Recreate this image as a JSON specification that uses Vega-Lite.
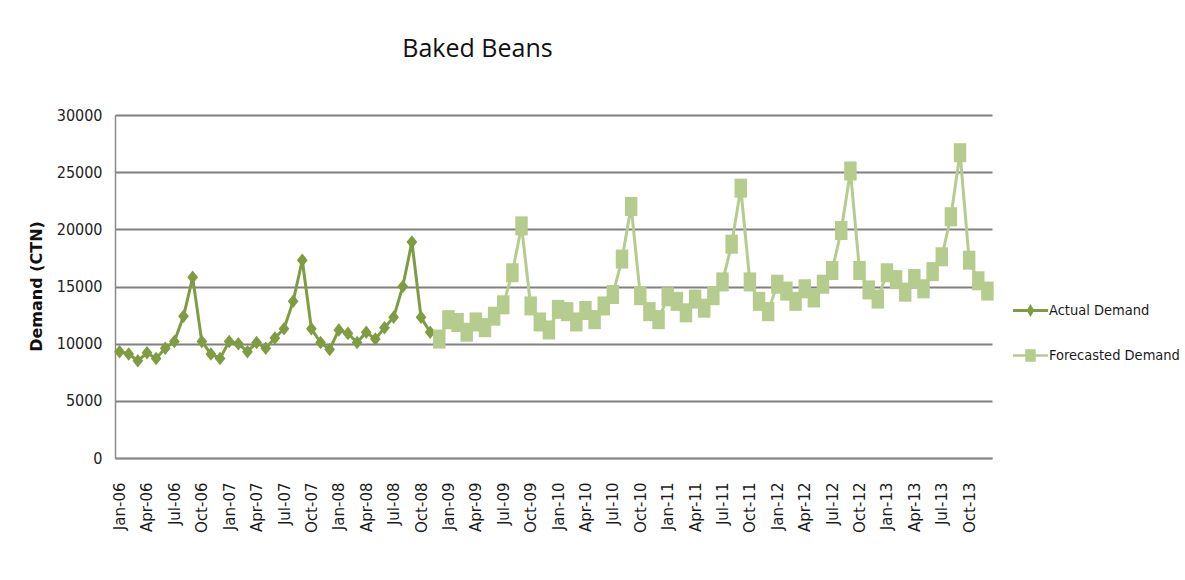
{
  "$schema": "https://vega.github.io/schema/vega-lite/v6.json",
  "width": 877,
  "height": 343,
  "autosize": {"type": "none"},
  "padding": {"left": 115, "top": 115, "right": 193, "bottom": 122},
  "background": "white",
  "config": {"view": {"stroke": null}},
  "title": {
    "text": "Baked Beans",
    "anchor": "middle",
    "frame": "group",
    "dx": -76,
    "offset": 25,
    "baseline": "alphabetic",
    "font": "Open Sans",
    "fontSize": 25,
    "fontWeight": "normal",
    "color": "#111"
  },
  "data": {
    "values": [
      {"month": "Jan-06", "series": "Actual Demand", "demand": 9300},
      {"month": "Feb-06", "series": "Actual Demand", "demand": 9100},
      {"month": "Mar-06", "series": "Actual Demand", "demand": 8500},
      {"month": "Apr-06", "series": "Actual Demand", "demand": 9200},
      {"month": "May-06", "series": "Actual Demand", "demand": 8700},
      {"month": "Jun-06", "series": "Actual Demand", "demand": 9600},
      {"month": "Jul-06", "series": "Actual Demand", "demand": 10200},
      {"month": "Aug-06", "series": "Actual Demand", "demand": 12400},
      {"month": "Sep-06", "series": "Actual Demand", "demand": 15800},
      {"month": "Oct-06", "series": "Actual Demand", "demand": 10200},
      {"month": "Nov-06", "series": "Actual Demand", "demand": 9100},
      {"month": "Dec-06", "series": "Actual Demand", "demand": 8700},
      {"month": "Jan-07", "series": "Actual Demand", "demand": 10200},
      {"month": "Feb-07", "series": "Actual Demand", "demand": 10000},
      {"month": "Mar-07", "series": "Actual Demand", "demand": 9300},
      {"month": "Apr-07", "series": "Actual Demand", "demand": 10100},
      {"month": "May-07", "series": "Actual Demand", "demand": 9600},
      {"month": "Jun-07", "series": "Actual Demand", "demand": 10500},
      {"month": "Jul-07", "series": "Actual Demand", "demand": 11300},
      {"month": "Aug-07", "series": "Actual Demand", "demand": 13700},
      {"month": "Sep-07", "series": "Actual Demand", "demand": 17300},
      {"month": "Oct-07", "series": "Actual Demand", "demand": 11300},
      {"month": "Nov-07", "series": "Actual Demand", "demand": 10100},
      {"month": "Dec-07", "series": "Actual Demand", "demand": 9500},
      {"month": "Jan-08", "series": "Actual Demand", "demand": 11200},
      {"month": "Feb-08", "series": "Actual Demand", "demand": 10900},
      {"month": "Mar-08", "series": "Actual Demand", "demand": 10100},
      {"month": "Apr-08", "series": "Actual Demand", "demand": 11000},
      {"month": "May-08", "series": "Actual Demand", "demand": 10400},
      {"month": "Jun-08", "series": "Actual Demand", "demand": 11400},
      {"month": "Jul-08", "series": "Actual Demand", "demand": 12300},
      {"month": "Aug-08", "series": "Actual Demand", "demand": 15000},
      {"month": "Sep-08", "series": "Actual Demand", "demand": 18900},
      {"month": "Oct-08", "series": "Actual Demand", "demand": 12300},
      {"month": "Nov-08", "series": "Actual Demand", "demand": 11000},
      {"month": "Dec-08", "series": "Forecasted Demand", "demand": 10400},
      {"month": "Jan-09", "series": "Forecasted Demand", "demand": 12100},
      {"month": "Feb-09", "series": "Forecasted Demand", "demand": 11850},
      {"month": "Mar-09", "series": "Forecasted Demand", "demand": 11000},
      {"month": "Apr-09", "series": "Forecasted Demand", "demand": 11900},
      {"month": "May-09", "series": "Forecasted Demand", "demand": 11400},
      {"month": "Jun-09", "series": "Forecasted Demand", "demand": 12400},
      {"month": "Jul-09", "series": "Forecasted Demand", "demand": 13400},
      {"month": "Aug-09", "series": "Forecasted Demand", "demand": 16200},
      {"month": "Sep-09", "series": "Forecasted Demand", "demand": 20300},
      {"month": "Oct-09", "series": "Forecasted Demand", "demand": 13300},
      {"month": "Nov-09", "series": "Forecasted Demand", "demand": 11900},
      {"month": "Dec-09", "series": "Forecasted Demand", "demand": 11200},
      {"month": "Jan-10", "series": "Forecasted Demand", "demand": 13000},
      {"month": "Feb-10", "series": "Forecasted Demand", "demand": 12800},
      {"month": "Mar-10", "series": "Forecasted Demand", "demand": 11900},
      {"month": "Apr-10", "series": "Forecasted Demand", "demand": 12900},
      {"month": "May-10", "series": "Forecasted Demand", "demand": 12100},
      {"month": "Jun-10", "series": "Forecasted Demand", "demand": 13300},
      {"month": "Jul-10", "series": "Forecasted Demand", "demand": 14300},
      {"month": "Aug-10", "series": "Forecasted Demand", "demand": 17400},
      {"month": "Sep-10", "series": "Forecasted Demand", "demand": 22000},
      {"month": "Oct-10", "series": "Forecasted Demand", "demand": 14200},
      {"month": "Nov-10", "series": "Forecasted Demand", "demand": 12800},
      {"month": "Dec-10", "series": "Forecasted Demand", "demand": 12100},
      {"month": "Jan-11", "series": "Forecasted Demand", "demand": 14100},
      {"month": "Feb-11", "series": "Forecasted Demand", "demand": 13700},
      {"month": "Mar-11", "series": "Forecasted Demand", "demand": 12700},
      {"month": "Apr-11", "series": "Forecasted Demand", "demand": 13900},
      {"month": "May-11", "series": "Forecasted Demand", "demand": 13100},
      {"month": "Jun-11", "series": "Forecasted Demand", "demand": 14200},
      {"month": "Jul-11", "series": "Forecasted Demand", "demand": 15400},
      {"month": "Aug-11", "series": "Forecasted Demand", "demand": 18700},
      {"month": "Sep-11", "series": "Forecasted Demand", "demand": 23600},
      {"month": "Oct-11", "series": "Forecasted Demand", "demand": 15400},
      {"month": "Nov-11", "series": "Forecasted Demand", "demand": 13700},
      {"month": "Dec-11", "series": "Forecasted Demand", "demand": 12800},
      {"month": "Jan-12", "series": "Forecasted Demand", "demand": 15200},
      {"month": "Feb-12", "series": "Forecasted Demand", "demand": 14600},
      {"month": "Mar-12", "series": "Forecasted Demand", "demand": 13700},
      {"month": "Apr-12", "series": "Forecasted Demand", "demand": 14800},
      {"month": "May-12", "series": "Forecasted Demand", "demand": 14000},
      {"month": "Jun-12", "series": "Forecasted Demand", "demand": 15200},
      {"month": "Jul-12", "series": "Forecasted Demand", "demand": 16400},
      {"month": "Aug-12", "series": "Forecasted Demand", "demand": 19900},
      {"month": "Sep-12", "series": "Forecasted Demand", "demand": 25100},
      {"month": "Oct-12", "series": "Forecasted Demand", "demand": 16400},
      {"month": "Nov-12", "series": "Forecasted Demand", "demand": 14700},
      {"month": "Dec-12", "series": "Forecasted Demand", "demand": 13900},
      {"month": "Jan-13", "series": "Forecasted Demand", "demand": 16200},
      {"month": "Feb-13", "series": "Forecasted Demand", "demand": 15600},
      {"month": "Mar-13", "series": "Forecasted Demand", "demand": 14500},
      {"month": "Apr-13", "series": "Forecasted Demand", "demand": 15700},
      {"month": "May-13", "series": "Forecasted Demand", "demand": 14800},
      {"month": "Jun-13", "series": "Forecasted Demand", "demand": 16300},
      {"month": "Jul-13", "series": "Forecasted Demand", "demand": 17600},
      {"month": "Aug-13", "series": "Forecasted Demand", "demand": 21100},
      {"month": "Sep-13", "series": "Forecasted Demand", "demand": 26700},
      {"month": "Oct-13", "series": "Forecasted Demand", "demand": 17300},
      {"month": "Nov-13", "series": "Forecasted Demand", "demand": 15500},
      {"month": "Dec-13", "series": "Forecasted Demand", "demand": 14600}
    ]
  },
  "encoding": {
    "x": {
      "field": "month",
      "type": "ordinal",
      "sort": null,
      "scale": {"type": "point", "padding": 0.5},
      "axis": {
        "title": null,
        "labelAngle": -90,
        "labelAlign": "right",
        "labelBaseline": "middle",
        "labelPadding": 24,
        "labelOverlap": false,
        "labelFont": "DejaVu Sans",
        "labelFontSize": 15,
        "labelColor": "#1a1a1a",
        "labelExpr": "indexof(['Jan','Apr','Jul','Oct'], slice(datum.label, 0, 3)) >= 0 ? datum.label : ''",
        "ticks": false,
        "grid": false,
        "domain": true,
        "domainColor": "#8a8a8a",
        "domainWidth": 1.5
      }
    },
    "y": {
      "field": "demand",
      "type": "quantitative",
      "scale": {"domain": [0, 30000], "nice": false},
      "axis": {
        "values": [0, 5000, 10000, 15000, 20000, 25000, 30000],
        "format": "d",
        "title": "Demand (CTN)",
        "titleFont": "DejaVu Sans",
        "titleFontWeight": "bold",
        "titleFontSize": 16,
        "titleColor": "#111",
        "titleAngle": 270,
        "titleX": -79,
        "titleY": 171,
        "titleAlign": "center",
        "titleBaseline": "middle",
        "labelFont": "DejaVu Sans Condensed",
        "labelFontSize": 16,
        "labelColor": "#222",
        "labelPadding": 13,
        "ticks": false,
        "grid": true,
        "gridColor": "#808080",
        "gridWidth": 1.8,
        "domain": true,
        "domainColor": "#8a8a8a",
        "domainWidth": 1.5
      }
    },
    "color": {
      "field": "series",
      "type": "nominal",
      "scale": {"domain": ["Actual Demand", "Forecasted Demand"], "range": ["#7F9C42", "#B6CC8E"]},
      "legend": {
        "orient": "none",
        "legendX": 898,
        "legendY": 178,
        "title": null,
        "padding": 0,
        "symbolSize": 1225,
        "rowPadding": 21,
        "labelOffset": 1,
        "labelFont": "DejaVu Sans Condensed",
        "labelFontSize": 14.5,
        "labelColor": "#1a1a1a",
        "encode": {
          "symbols": {
            "update": {
              "shape": {"signal": "datum.value === 'Actual Demand' ? 'M-1,-0.08H1V0.08H-1Z M0,-0.37L0.22,0L0,0.37L-0.22,0Z' : 'M-1,-0.07H1V0.07H-1Z M-0.3,-0.36H0.3V0.36H-0.3Z'"},
              "fill": {"scale": "color", "field": "value"},
              "fillOpacity": {"value": 1},
              "strokeWidth": {"value": 0}
            }
          }
        }
      }
    }
  },
  "layer": [
    {"mark": {"type": "line", "strokeWidth": 3}},
    {
      "transform": [{"filter": "datum.series === 'Actual Demand'"}],
      "mark": {"type": "point", "filled": true, "opacity": 1, "size": 300, "shape": "M0,-0.78L0.62,0L0,0.78L-0.62,0Z"}
    },
    {
      "transform": [{"filter": "datum.series === 'Forecasted Demand'"}],
      "mark": {"type": "point", "filled": true, "opacity": 1, "size": 300, "shape": "M-0.72,-1.1H0.72V1.1H-0.72Z"}
    }
  ]
}
